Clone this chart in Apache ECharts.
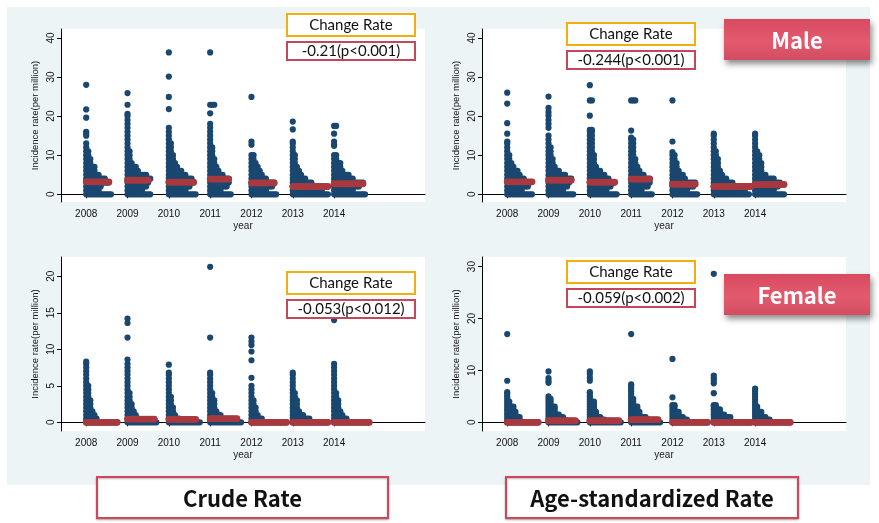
<!DOCTYPE html>
<html>
<head>
<meta charset="utf-8">
<script src="https://cdn.jsdelivr.net/npm/echarts@6/dist/echarts.min.js"></script>
<style>html,body{margin:0;padding:0;background:#fff}#c{width:879px;height:523px}</style>
</head>
<body>
<div id="c"></div>
<script>
const years = [2008, 2009, 2010, 2011, 2012, 2013, 2014];

// Each year: list of [incidence rate, number of stacked dots in that row]
const maleCrudeDots = [
  [[0,13],[1,7],[2,8],[3,12],[4,10],[5,7],[6,5],[7,5],[8,3],[9,3],[10,2],[11,2],[12,1],[13,1],[15,1],[15.5,1],[16,1],[19.6,1],[21.7,1],[28,1]],
  [[0,12],[1,8],[2,10],[3,11],[4,12],[5,10],[6,6],[7,5],[8,3],[9,2],[10,2],[11,2],[12,1],[13,1],[14,1],[15,1],[16,1],[17,1],[18,1],[19,1],[20,1],[20.6,1],[22.9,1],[25.9,1]],
  [[0,14],[1,9],[2,11],[3,13],[4,12],[5,9],[6,7],[7,5],[8,4],[9,3],[10,3],[11,2],[12,2],[13,2],[14,1],[15,1],[16,1],[17,1],[21.8,1],[24.9,1],[30.1,1],[36.3,1]],
  [[0,11],[1,6],[2,9],[3,10],[4,10],[5,7],[6,5],[7,4],[8,3],[9,3],[10,2],[11,2],[12,2],[13,1],[14,1],[15,1],[16,1],[17,1],[18,1],[20.7,1],[22.9,3],[36.3,1]],
  [[0,13],[1,8],[2,11],[3,12],[4,8],[5,6],[6,5],[7,4],[8,3],[9,2],[10,2],[12.7,1],[13.5,1],[24.9,1]],
  [[0,18],[1,15],[2,14],[3,10],[4,7],[5,5],[6,4],[7,3],[8,2],[9,2],[10,2],[11,1],[12,1],[13,1],[13.5,1],[16.6,1],[18.6,1]],
  [[0,16],[1,10],[2,13],[3,15],[4,10],[5,8],[6,5],[7,4],[8,4],[9,2],[10,2],[12.4,1],[12.7,1],[13.5,1],[15.5,1],[17.5,2]]
];
const maleCrudeMedian = [3.2, 3.6, 3.1, 3.9, 2.9, 2.0, 2.7];
const maleCrudeBarDots = [12, 11, 13, 10, 12, 18, 15];

const maleAgeDots = [
  [[0,13],[1,8],[2,11],[3,12],[4,9],[5,7],[6,6],[7,4],[8,3],[9,2],[10,2],[11,1],[12,1],[13,1],[13.5,1],[15.5,1],[18.2,1],[23.2,1],[26,1]],
  [[0,13],[1,8],[2,10],[3,11],[4,12],[5,9],[6,6],[7,4],[8,3],[9,3],[10,2],[11,2],[12,2],[13,1],[14,1],[15,1],[17,1],[18,1],[19,1],[20.1,1],[21,1],[22.1,1],[25,1]],
  [[0,14],[1,9],[2,11],[3,13],[4,10],[5,8],[6,6],[7,4],[8,3],[9,3],[10,3],[11,2],[12,2],[13,2],[14,2],[15,2],[16,2],[16.5,2],[20.1,1],[24,2],[27.9,1]],
  [[0,11],[1,6],[2,9],[3,10],[4,10],[5,7],[6,5],[7,4],[8,3],[9,3],[10,2],[11,2],[12,2],[13,2],[14,2],[14.5,1],[16.3,1],[24,3]],
  [[0,13],[1,8],[2,11],[3,12],[4,7],[5,6],[6,4],[7,3],[8,3],[9,2],[10,2],[10.8,1],[13.5,1],[24,1]],
  [[0,18],[1,16],[2,14],[3,10],[4,7],[5,5],[6,4],[7,3],[8,3],[9,3],[10,2],[11,2],[12,1],[13,1],[14,1],[15,1],[15.5,1]],
  [[0,15],[1,10],[2,12],[3,13],[4,10],[5,6],[6,4],[7,4],[8,4],[9,3],[10,3],[11,2],[12,1],[13,1],[14,1],[15,1],[15.5,1]]
];
const maleAgeMedian = [3.2, 3.6, 3.1, 3.9, 2.6, 2.0, 2.5];
const maleAgeBarDots = [13, 12, 13, 10, 12, 19, 15];

const femaleCrudeDots = [
  [[0,16],[0.5,6],[1,5],[1.5,4],[2,3],[2.5,3],[3,3],[3.5,2],[4,2],[4.5,2],[5,2],[5.5,1],[6,1],[6.5,1],[7,1],[7.5,1],[8,1],[8.3,1]],
  [[0,15],[0.5,6],[1,5],[1.5,4],[2,3],[2.5,3],[3,2],[3.5,2],[4,2],[4.5,1],[5,1],[5.5,1],[6,1],[6.5,1],[7,1],[7.5,1],[8,1],[8.6,1],[11.6,1],[13.6,1],[14.2,1]],
  [[0,16],[0.5,6],[1,4],[1.5,3],[2,3],[2.5,2],[3,2],[3.5,2],[4,1],[4.5,1],[5,1],[5.5,1],[6,1],[6.5,1],[6.8,1],[7.9,1]],
  [[0,16],[0.5,7],[1,6],[1.5,4],[2,3],[2.5,3],[3,3],[3.5,2],[4,2],[4.5,1],[5,1],[5.5,1],[6,1],[6.5,1],[6.8,1],[11.6,1],[21.3,1]],
  [[0,18],[0.5,6],[1,4],[1.5,3],[2,3],[2.5,2],[3,2],[3.5,1],[4,1],[4.5,1],[5,1],[6.1,1],[8.5,1],[9.7,1],[10.6,1],[11.1,1],[11.6,1]],
  [[0,18],[0.5,9],[1,6],[1.5,4],[2,3],[2.5,3],[3,3],[3.5,2],[4,2],[4.5,1],[5,1],[5.5,1],[6,1],[6.5,1],[6.8,1]],
  [[0,18],[0.5,7],[1,5],[1.5,4],[2,3],[2.5,3],[3,3],[3.5,2],[4,2],[4.5,1],[5,1],[5.5,1],[6,1],[6.5,1],[7,1],[7.5,1],[8,1],[14,1]]
];
const femaleCrudeMedian = [0, 0.45, 0.4, 0.5, 0, 0, 0];
const femaleCrudeBarDots = [16, 14, 14, 14, 18, 18, 18];

const femaleAgeDots = [
  [[0,16],[0.5,7],[1,7],[1.5,5],[2,5],[2.5,4],[3,4],[3.5,2],[4,2],[4.5,1],[5,1],[5.5,1],[5.8,1],[8,1],[17,1]],
  [[0,15],[0.5,9],[1,8],[1.5,6],[2,4],[2.5,4],[3,4],[3.5,2],[4,2],[4.5,2],[5,1],[7.6,1],[8,1],[8.5,1],[9.8,1]],
  [[0,16],[0.5,8],[1,6],[1.5,4],[2,4],[2.5,3],[3,3],[3.5,3],[4,3],[4.5,1],[5,1],[5.5,1],[5.8,1],[8,1],[8.6,1],[9.3,1],[9.8,1]],
  [[0,15],[0.5,9],[1,8],[1.5,5],[2,5],[2.5,4],[3,4],[3.5,2],[4,2],[4.5,2],[5,1],[5.5,1],[6,1],[6.5,1],[7,1],[7.3,1],[17,1]],
  [[0,18],[0.5,8],[1,6],[1.5,4],[2,4],[2.5,2],[3,2],[3.3,2],[4.8,1],[12.2,1]],
  [[0,19],[0.5,9],[1,9],[1.5,6],[2,4],[2.5,4],[3,2],[3.3,2],[5.6,1],[7.5,1],[8,1],[8.5,1],[9,1],[28.6,1]],
  [[0,18],[0.5,8],[1,6],[1.5,4],[2,4],[2.5,2],[3,2],[3.5,1],[4,1],[4.5,1],[5,1],[5.5,1],[6,1],[6.5,1]]
];
const femaleAgeMedian = [0, 0.3, 0.3, 0.5, 0, 0, 0];
const femaleAgeBarDots = [16, 14, 15, 14, 18, 19, 18];

const yTicksMale = [0, 10, 20, 30, 40];
const yTicksFemaleCrude = [0, 5, 10, 15, 20];
const yTicksFemaleAge = [0, 10, 20, 30];

const changeLabels = ['-0.21(p<0.001)', '-0.244(p<0.001)', '-0.053(p<0.012)', '-0.059(p<0.002)'];

const NAVY = '#1a476f', MAROON = '#a8393f';
const STEP = 0.05;

const panels = [
  {dots: maleCrudeDots, med: maleCrudeMedian, bar: maleCrudeBarDots, ticks: yTicksMale, ymin: -1.97, ymax: 42.28,
   grid: {left: 61, top: 29, width: 364, height: 173}},
  {dots: maleAgeDots, med: maleAgeMedian, bar: maleAgeBarDots, ticks: yTicksMale, ymin: -1.97, ymax: 42.28,
   grid: {left: 482, top: 29, width: 364, height: 173}},
  {dots: femaleCrudeDots, med: femaleCrudeMedian, bar: femaleCrudeBarDots, ticks: yTicksFemaleCrude, ymin: -1.19, ymax: 22.64,
   grid: {left: 61, top: 257, width: 364, height: 174}},
  {dots: femaleAgeDots, med: femaleAgeMedian, bar: femaleAgeBarDots, ticks: yTicksFemaleAge, ymin: -1.68, ymax: 31.85,
   grid: {left: 482, top: 257, width: 364, height: 174}}
];

function dotRenderer(color, r) {
  return function (params, api) {
    const x = api.value(0), v = api.value(1), n = api.value(2);
    const children = [];
    for (let k = 0; k < n; k++) {
      const p = api.coord([x + k * STEP, v]);
      children.push({type: 'circle', shape: {cx: p[0], cy: p[1], r: r}, style: {fill: color}});
    }
    return {type: 'group', children: children};
  };
}

const grids = [], xAxes = [], yAxes = [], series = [];
panels.forEach((p, i) => {
  grids.push(Object.assign({show: true, backgroundColor: '#ffffff', borderWidth: 0}, p.grid));
  xAxes.push({
    gridIndex: i, type: 'value', min: 2007.39, max: 2016.2,
    name: 'year', nameLocation: 'middle', nameGap: 19,
    nameTextStyle: {fontFamily: 'Liberation Sans', fontSize: 10, color: '#222'},
    axisLine: {lineStyle: {color: '#000', width: 1}},
    axisTick: {show: true, length: 4, customValues: years, lineStyle: {color: '#000'}},
    axisLabel: {customValues: years, formatter: v => String(Math.round(v)),
      fontFamily: 'Liberation Sans', fontSize: 10, color: '#111', margin: 7},
    splitLine: {show: false}
  });
  yAxes.push({
    gridIndex: i, type: 'value', min: p.ymin, max: p.ymax,
    name: 'Incidence rate(per million)', nameLocation: 'middle', nameGap: 21,
    nameTextStyle: {fontFamily: 'Liberation Sans', fontSize: 9.5, color: '#111'},
    axisLine: {show: true, lineStyle: {color: '#000', width: 1}},
    axisTick: {show: true, length: 4, customValues: p.ticks, lineStyle: {color: '#000'}},
    axisLabel: {customValues: p.ticks, formatter: v => String(Math.round(v)), rotate: 90,
      fontFamily: 'Liberation Sans', fontSize: 10, color: '#111', margin: 5},
    splitLine: {show: false}
  });
  const blue = [];
  p.dots.forEach((rows, yi) => rows.forEach(r => blue.push([years[yi], r[0], r[1]])));
  const red = years.map((y, yi) => [y, p.med[yi], p.bar[yi]]);
  series.push({type: 'custom', xAxisIndex: i, yAxisIndex: i, renderItem: dotRenderer(NAVY, 3.1),
    data: blue, encode: {x: 0, y: 1}, silent: true, z: 2, clip: false});
  series.push({type: 'custom', xAxisIndex: i, yAxisIndex: i, renderItem: dotRenderer(MAROON, 3.4),
    data: red, encode: {x: 0, y: 1}, silent: true, z: 3, clip: false});
});

function changeBox(x, y, label) {
  return [
    {type: 'rect', z: 100, shape: {x: x, y: y, width: 128, height: 22},
     style: {fill: '#fff', stroke: '#f2b010', lineWidth: 2}},
    {type: 'text', z: 101, x: x + 64, y: y + 11,
     style: {text: 'Change Rate', fontFamily: 'Lato', fontSize: 15, fill: '#111', align: 'center', verticalAlign: 'middle'}},
    {type: 'rect', z: 100, shape: {x: x, y: y + 28, width: 128, height: 18},
     style: {fill: '#fff', stroke: '#c2475a', lineWidth: 2}},
    {type: 'text', z: 101, x: x + 64, y: y + 37,
     style: {text: label, fontFamily: 'Lato', fontSize: 15, fill: '#111', align: 'center', verticalAlign: 'middle'}}
  ];
}

function badge(x, y, w, h, label) {
  return [
    {type: 'rect', z: 100, shape: {x: x, y: y, width: w, height: h},
     style: {fill: {type: 'linear', x: 0, y: 0, x2: 0, y2: 1, colorStops: [
       {offset: 0, color: '#d84a60'}, {offset: 0.55, color: '#e35a6d'}, {offset: 1, color: '#d24d61'}]},
       shadowBlur: 6, shadowOffsetX: 2, shadowOffsetY: 4, shadowColor: 'rgba(0,0,0,0.45)'}},
    {type: 'text', z: 101, x: x + w / 2, y: y + h / 2 + 1,
     style: {text: label, fontFamily: 'Noto Sans CJK KR', fontWeight: 'bold', fontSize: 22, fill: '#fff', align: 'center', verticalAlign: 'middle'}}
  ];
}

function button(x, y, w, h, label) {
  return [
    {type: 'rect', z: 100, shape: {x: x, y: y, width: w, height: h},
     style: {fill: '#fff', stroke: '#d2465c', lineWidth: 2, shadowBlur: 2, shadowOffsetY: 1, shadowColor: 'rgba(0,0,0,0.3)'}},
    {type: 'text', z: 101, x: x + w / 2, y: y + h / 2 + 1,
     style: {text: label, fontFamily: 'Noto Sans CJK KR', fontWeight: 'bold', fontSize: 22, fill: '#111', align: 'center', verticalAlign: 'middle'}}
  ];
}

const graphic = [
  {type: 'rect', z: -10, silent: true, shape: {x: 7, y: 7, width: 863, height: 478}, style: {fill: '#ecf4f6'}}
].concat(
  changeBox(287, 14, changeLabels[0]),
  changeBox(567, 23, changeLabels[1]),
  changeBox(287, 272, changeLabels[2]),
  changeBox(567, 261, changeLabels[3]),
  badge(724, 19, 146, 41, 'Male'),
  badge(724, 274, 146, 41, 'Female'),
  button(97, 477, 291, 41, 'Crude Rate'),
  button(506, 477, 292, 41, 'Age-standardized Rate')
);

const chart = echarts.init(document.getElementById('c'), null, {renderer: 'canvas'});
chart.setOption({
  animation: false,
  backgroundColor: '#ffffff',
  grid: grids, xAxis: xAxes, yAxis: yAxes, series: series,
  graphic: {elements: graphic}
});
</script>
</body>
</html>
